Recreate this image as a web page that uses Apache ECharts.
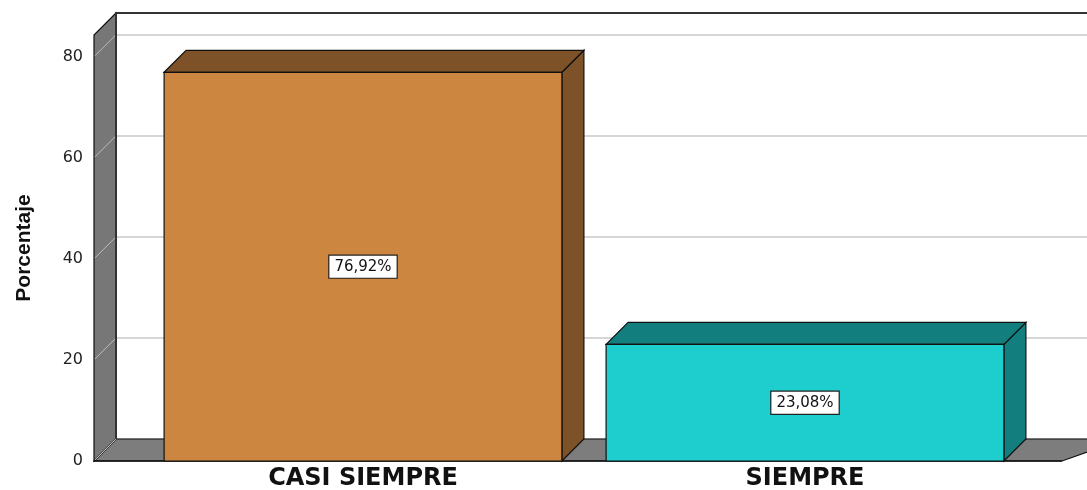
<!DOCTYPE html>
<html>
<head>
<meta charset="utf-8">
<script src="https://cdn.jsdelivr.net/npm/echarts@6/dist/echarts.min.js"></script>
<style>
  html, body { margin: 0; padding: 0; background: #fff; }
  #chart { width: 1087px; height: 490px; }
</style>
</head>
<body>
<div id="chart"></div>
<script>
  // datos
  const categorias = ['CASI SIEMPRE', 'SIEMPRE'];
  const porcentajes = [76.92, 23.08];
  const etiquetas = ['76,92%', '23,08%'];
  const yTicks = [0, 20, 40, 60, 80];
  const yMax = 84.3;

  const colorFrente = ['#cc8640', '#1ecdcd'];
  const colorLado = ['#7e5228', '#137e7e'];
  const prof = 22; // profundidad 3D en px

  const chart = echarts.init(document.getElementById('chart'));

  // paredes: pared izquierda gris + suelo
  function renderParedes(params, api) {
    const cs = params.coordSys;
    const x0 = cs.x, y0 = cs.y, w = cs.width, h = cs.height;
    const yb = y0 + h;
    const children = [];
    // suelo
    children.push({
      type: 'polygon',
      shape: { points: [[x0, yb], [x0 + prof, yb - prof], [x0 + w + prof + 40, yb - prof], [x0 + w, yb]] },
      style: { fill: '#7d7d7d', stroke: '#111', lineWidth: 1.2 }
    });
    // pared izquierda
    children.push({
      type: 'polygon',
      shape: { points: [[x0, yb], [x0, y0], [x0 + prof, y0 - prof], [x0 + prof, yb - prof]] },
      style: { fill: '#777777', stroke: '#111', lineWidth: 1.2 }
    });
    // lineas de cuadricula en la pared
    yTicks.forEach(function (t) {
      const p = api.coord([0, t]);
      children.push({
        type: 'line',
        shape: { x1: x0 + 1, y1: p[1] - 1, x2: x0 + prof, y2: p[1] - prof },
        style: { stroke: '#bdbdbd', lineWidth: 1 }
      });
    });
    // borde trasero superior e izquierdo
    children.push({
      type: 'polyline',
      shape: { points: [[x0 + prof, yb - prof], [x0 + prof, y0 - prof], [x0 + w + prof + 60, y0 - prof]] },
      style: { stroke: '#333', lineWidth: 2, fill: null }
    });
    // borde frontal inferior
    children.push({
      type: 'line',
      shape: { x1: x0, y1: yb, x2: x0 + w, y2: yb },
      style: { stroke: '#111', lineWidth: 1.5 }
    });
    return { type: 'group', children: children };
  }

  // barras 3D
  function renderBarra(params, api) {
    const i = api.value(0);
    const v = api.value(1);
    const top = api.coord([i, v]);
    const base = api.coord([i, 0]);
    const bw = api.size([1, 0])[0] * 0.9;
    const l = top[0] - bw / 2;
    const r = l + bw;
    const t = top[1];
    const b = base[1];
    const borde = { stroke: '#111', lineWidth: 1.2 };
    return {
      type: 'group',
      children: [
        {
          type: 'polygon',
          shape: { points: [[r, t], [r + prof, t - prof], [r + prof, b - prof], [r, b]] },
          style: Object.assign({ fill: colorLado[i] }, borde)
        },
        {
          type: 'polygon',
          shape: { points: [[l, t], [l + prof, t - prof], [r + prof, t - prof], [r, t]] },
          style: Object.assign({ fill: colorLado[i] }, borde)
        },
        {
          type: 'rect',
          shape: { x: l, y: t, width: bw, height: b - t },
          style: Object.assign({ fill: colorFrente[i] }, borde)
        },
        {
          type: 'text',
          x: (l + r) / 2,
          y: (t + b) / 2,
          style: {
            text: etiquetas[i],
            align: 'center',
            verticalAlign: 'middle',
            fontFamily: 'DejaVu Sans',
            fontSize: 15,
            fill: '#111',
            backgroundColor: '#fff',
            borderColor: '#222',
            borderWidth: 1.2,
            padding: [4, 5, 3, 5]
          }
        }
      ]
    };
  }

  const option = {
    animation: false,
    grid: [
      { left: 94, right: 25, top: 35, bottom: 29, outerBoundsMode: 'none' },   // plano frontal
      { left: 116, right: 0, top: 13, bottom: 51, outerBoundsMode: 'none' },   // plano trasero
      { left: 142, right: 61, top: 35, bottom: 29, outerBoundsMode: 'none' }   // barras
    ],
    xAxis: [
      { gridIndex: 0, type: 'value', min: 0, max: 1, show: false },
      { gridIndex: 1, type: 'value', min: 0, max: 1, show: false },
      {
        gridIndex: 2,
        type: 'category',
        data: categorias,
        axisLine: { show: false },
        axisTick: { show: false },
        axisLabel: {
          margin: 6,
          fontFamily: 'DejaVu Sans',
          fontWeight: 'bold',
          fontSize: 24,
          color: '#111'
        }
      }
    ],
    yAxis: [
      {
        gridIndex: 0,
        type: 'value',
        min: 0,
        max: yMax,
        interval: 20,
        name: 'Porcentaje',
        nameLocation: 'middle',
        nameRotate: 90,
        nameGap: 59,
        nameTextStyle: {
          fontFamily: 'Liberation Sans',
          fontWeight: 'bold',
          fontSize: 21,
          color: '#111'
        },
        axisLine: { show: false },
        axisTick: { show: false },
        splitLine: { show: false },
        axisLabel: {
          showMaxLabel: false,
          margin: 11,
          fontFamily: 'DejaVu Sans',
          fontSize: 16,
          color: '#222'
        }
      },
      {
        gridIndex: 1,
        type: 'value',
        min: 0,
        max: yMax,
        interval: 20,
        axisLine: { show: false },
        axisTick: { show: false },
        axisLabel: { show: false },
        splitLine: { show: true, lineStyle: { color: '#d6d6d6', width: 2 } }
      },
      { gridIndex: 2, type: 'value', min: 0, max: yMax, interval: 20, show: false }
    ],
    series: [
      {
        type: 'custom',
        xAxisIndex: 0,
        yAxisIndex: 0,
        renderItem: renderParedes,
        data: [[0, 0]],
        silent: true,
        z: 1
      },
      {
        type: 'custom',
        xAxisIndex: 2,
        yAxisIndex: 2,
        renderItem: renderBarra,
        data: porcentajes.map(function (v, i) { return [i, v]; }),
        z: 2
      }
    ]
  };

  chart.setOption(option);
</script>
</body>
</html>
